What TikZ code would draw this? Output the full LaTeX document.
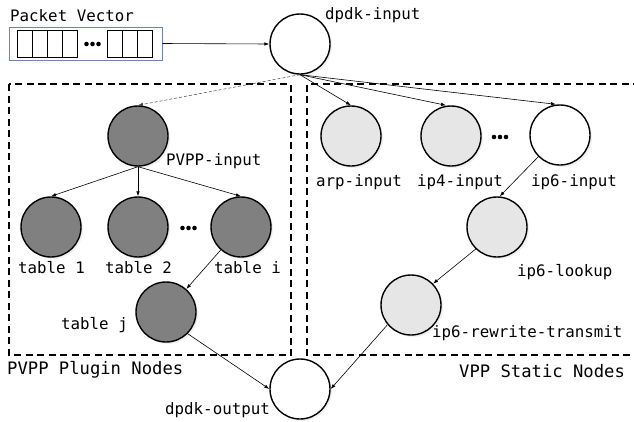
\documentclass[tikz,border=0pt]{standalone}
\usepackage{fontspec}
\setmonofont{DejaVu Sans Mono}
\usetikzlibrary{arrows.meta,shadows}
\definecolor{darkfill}{HTML}{808080}
\definecolor{lightfill}{HTML}{E6E6E6}
\definecolor{vecborder}{HTML}{6F86AA}
\begin{document}
\begin{tikzpicture}[x=1pt,y=-1pt,
  font=\ttfamily\fontsize{15.8}{18}\selectfont,
  gnode/.style={circle,draw,line width=1.4pt,minimum size=#1,inner sep=0pt,
    drop shadow={opacity=0.12,shadow xshift=2pt,shadow yshift=-2pt}},
  gnode/.default=60pt,
  darknode/.style={gnode,fill=darkfill},
  lightnode/.style={gnode,fill=lightfill},
  whitenode/.style={gnode,fill=white},
  lbl/.style={anchor=base west,inner sep=0pt},
  boxlbl/.style={anchor=base west,inner sep=0pt,font=\ttfamily\fontsize{17.2}{19}\selectfont},
  conn/.style={line width=0.6pt,-{Latex[length=5pt,width=3.5pt]}},
  dconn/.style={line width=0.5pt,dash pattern=on 3pt off 2pt,draw=black!75,-{Latex[length=5pt,width=3.5pt]}},
  region/.style={line width=1.4pt,dash pattern=on 7pt off 4.5pt},
  cell/.style={draw,line width=1pt},
  dotmark/.style={fill=black,circle,inner sep=0pt,minimum size=4.6pt}
]
\useasboundingbox (0,0) rectangle (634,421);

% regions
\draw[region] (9,84) rectangle (291,355);
\draw[region] (640,84) -- (307,84) -- (307,355) -- (640,355);
\node[boxlbl] (lblpvpp) at (7,374) {PVPP Plugin Nodes};
\node[boxlbl] (lblvpp) at (459,377) {VPP Static Nodes};

% packet vector
\node[lbl] (pvtitle) at (10,21) {Packet Vector};
\node[draw=vecborder,line width=0.9pt,minimum width=153pt,minimum height=33pt,inner sep=0pt] (vec) at (85.5,43.5) {};
\draw[cell] (17,30) rectangle (77,57);
\foreach \xx in {32,47,62} \draw[cell] (\xx,30) -- (\xx,57);
\draw[cell] (107,30) rectangle (152,57);
\foreach \xx in {122,137} \draw[cell] (\xx,30) -- (\xx,57);
\foreach \xx in {86.5,92.5,98.5} \node[dotmark] at (\xx,44) {};

% nodes
\node[whitenode=61pt] (din) at (300,44) {};
\node[lbl] (dinl) at (325,19.5) {dpdk-input};

\node[darknode] (pvpp) at (138,136) {};
\node[lbl] (pvppl) at (166,165) {PVPP-input};
\node[darknode] (t1) at (51,227) {};
\node[lbl] (t1l) at (18,273) {table 1};
\node[darknode] (t2) at (138,227) {};
\node[lbl] (t2l) at (105,273) {table 2};
\node[darknode] (ti) at (241,227) {};
\node[lbl] (til) at (214,273) {table i};
\foreach \xx in {182.5,188.5,194.5} \node[dotmark] at (\xx,228) {};
\node[darknode] (tj) at (166,312) {};
\node[lbl] (tjl) at (61,329) {table j};

\node[lightnode] (arp) at (351,136) {};
\node[lbl] (arpl) at (316,186) {arp-input};
\node[lightnode] (ip4) at (451,136) {};
\node[lbl] (ip4l) at (417,186) {ip4-input};
\foreach \xx in {494,500,506} \node[dotmark] at (\xx,137) {};
\node[whitenode] (ip6) at (560,135) {};
\node[lbl] (ip6l) at (531,186) {ip6-input};
\node[lightnode] (lk) at (497,227) {};
\node[lbl] (lkl) at (517,276) {ip6-lookup};
\node[lightnode] (rw) at (411,305) {};
\node[lbl] (rwl) at (432,337) {ip6-rewrite-transmit};

\node[whitenode=62pt] (dout) at (300,389) {};
\node[lbl] (doutl) at (165,414) {dpdk-output};

% connectors
\draw[conn] (vec.east) -- (din.west);
\draw[dconn] (din.south) -- (pvpp.north);
\draw[conn] (din.south) -- (arp.north);
\draw[conn] (din.south) -- ([xshift=-5pt]ip4.north);
\draw[conn] (din.south) -- ([xshift=-4pt]ip6.north);
\draw[conn] (pvpp.south) -- (t1.north);
\draw[conn] (pvpp.south) -- (t2.north);
\draw[conn] (pvpp.south) -- (ti.north);
\draw[conn] (ti) -- (tj);
\draw[conn] (tj.-45) -- (dout.west);
\draw[conn] (ip6.225) -- (lk.85);
\draw[conn] (lk.226) -- (rw.44);
\draw[conn] (rw.220) -- (dout.east);
\end{tikzpicture}
\end{document}
